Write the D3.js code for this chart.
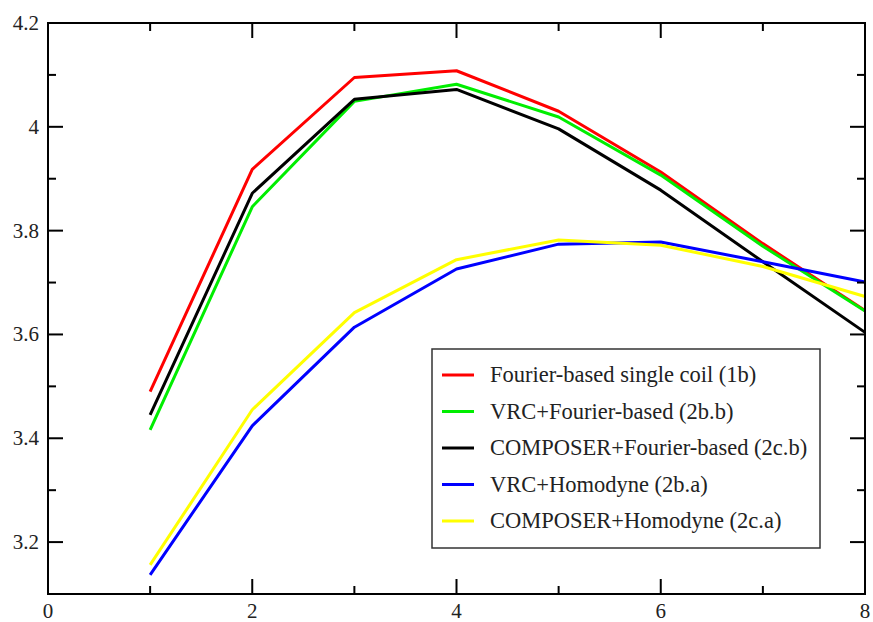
<!DOCTYPE html>
<html>
<head>
<meta charset="utf-8">
<script src="https://cdn.jsdelivr.net/npm/d3@7"></script>
<style>
  body { margin: 0; background: #fff; }
  svg { display: block; }
  text { font-family: "Liberation Serif", "Times New Roman", serif; }
</style>
</head>
<body>
<svg id="chart" width="873" height="622"></svg>
<script>
// datos
var xs = [1, 2, 3, 4, 5, 6, 7, 8];
var fourierSingle = [3.490, 3.918, 4.095, 4.108, 4.030, 3.913, 3.775, 3.646];
var vrcFourier = [3.416, 3.846, 4.049, 4.082, 4.019, 3.907, 3.770, 3.645];
var composerFourier = [3.445, 3.872, 4.053, 4.072, 3.996, 3.878, 3.740, 3.604];
var vrcHomodyne = [3.137, 3.424, 3.614, 3.726, 3.774, 3.778, 3.740, 3.701];
var composerHomodyne = [3.156, 3.455, 3.642, 3.744, 3.782, 3.772, 3.731, 3.673];

var seriesNames = ["Fourier-based single coil (1b)", "VRC+Fourier-based (2b.b)",
  "COMPOSER+Fourier-based (2c.b)", "VRC+Homodyne (2b.a)", "COMPOSER+Homodyne (2c.a)"];
var seriesColors = ["#ff0000", "#00ee00", "#000000", "#0000ff", "#ffff00"];
var seriesValues = [fourierSingle, vrcFourier, composerFourier, vrcHomodyne, composerHomodyne];

var xMajor = [0, 2, 4, 6, 8];
var xMinor = [1, 3, 5, 7];
var yMajor = [3.2, 3.4, 3.6, 3.8, 4.0, 4.2];
var yMinor = [3.1, 3.3, 3.5, 3.7, 3.9, 4.1];

var pLeft = 48, pRight = 865, pTop = 23, pBottom = 594;
var x = d3.scaleLinear().domain([0, 8]).range([pLeft, pRight]);
var y = d3.scaleLinear().domain([3.1, 4.2]).range([pBottom, pTop]);

var svg = d3.select("#chart");

// lineas de datos
var line = d3.line().x(function (d) { return x(d[0]); }).y(function (d) { return y(d[1]); });
seriesValues.forEach(function (vals, i) {
  svg.append("path")
    .datum(xs.map(function (v, j) { return [v, vals[j]]; }))
    .attr("fill", "none")
    .attr("stroke", seriesColors[i])
    .attr("stroke-width", 3)
    .attr("stroke-linejoin", "round")
    .attr("d", line);
});

// marco
svg.append("rect")
  .attr("x", pLeft).attr("y", pTop)
  .attr("width", pRight - pLeft).attr("height", pBottom - pTop)
  .attr("fill", "none").attr("stroke", "#000").attr("stroke-width", 2);

// ticks hacia dentro en los cuatro lados
var ax = svg.append("g").attr("stroke", "#000").attr("stroke-width", 2);
function tickX(v, len) {
  ax.append("line").attr("x1", x(v)).attr("x2", x(v)).attr("y1", pBottom).attr("y2", pBottom - len);
  ax.append("line").attr("x1", x(v)).attr("x2", x(v)).attr("y1", pTop).attr("y2", pTop + len);
}
function tickY(v, len) {
  ax.append("line").attr("y1", y(v)).attr("y2", y(v)).attr("x1", pLeft).attr("x2", pLeft + len);
  ax.append("line").attr("y1", y(v)).attr("y2", y(v)).attr("x1", pRight).attr("x2", pRight - len);
}
xMajor.forEach(function (v) { tickX(v, 15); });
xMinor.forEach(function (v) { tickX(v, 8); });
yMajor.forEach(function (v) { tickY(v, 15); });
yMinor.forEach(function (v) { tickY(v, 8); });

svg.selectAll(".xl").data(xMajor).enter().append("text")
  .attr("x", function (d) { return x(d); })
  .attr("y", 618)
  .attr("text-anchor", "middle")
  .attr("font-size", 21)
  .attr("fill", "#222")
  .text(function (d) { return d; });

svg.selectAll(".yl").data(yMajor).enter().append("text")
  .attr("x", 39)
  .attr("y", function (d) { return y(d) + 7; })
  .attr("text-anchor", "end")
  .attr("font-size", 21)
  .attr("fill", "#222")
  .text(function (d) { return d === 4 ? "4" : d3.format(".1f")(d); });

// leyenda
var lg = svg.append("g");
lg.append("rect")
  .attr("x", 432).attr("y", 349).attr("width", 388).attr("height", 199)
  .attr("fill", "#fff").attr("stroke", "#333").attr("stroke-width", 1.5);
seriesNames.forEach(function (name, i) {
  var cy = 375 + i * 36.5;
  lg.append("line")
    .attr("x1", 442).attr("x2", 474).attr("y1", cy).attr("y2", cy)
    .attr("stroke", seriesColors[i]).attr("stroke-width", 3);
  lg.append("text")
    .attr("x", 490).attr("y", cy + 7)
    .attr("font-size", 22.5)
    .attr("fill", "#222")
    .text(name);
});
</script>
</body>
</html>
